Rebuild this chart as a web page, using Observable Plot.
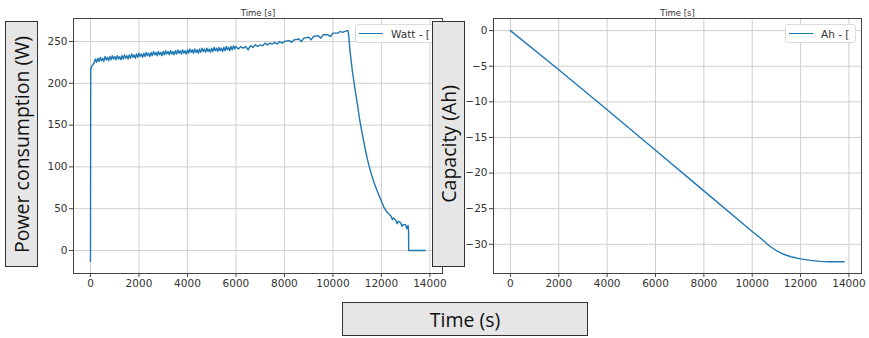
<!DOCTYPE html>
<html>
<head>
<meta charset="utf-8">
<script src="https://cdn.jsdelivr.net/npm/d3@7"></script>
<script src="https://cdn.jsdelivr.net/npm/@observablehq/plot@0.6"></script>
<style>
  html, body { margin: 0; padding: 0; background: #fff; }
  #wrap { position: relative; width: 869px; height: 338px; overflow: hidden; background: #fff; }
  .pane { position: absolute; top: 0; }
  .box { position: absolute; background: #e6e6e6; border: 1.5px solid #333; box-sizing: border-box;
         display: flex; align-items: center; justify-content: center;
         font-family: "Open Sans", sans-serif; font-size: 19.5px; color: #111; }
  .vert { writing-mode: vertical-rl; transform: rotate(180deg); }
  .leg { position: absolute; background: rgba(255,255,255,0.9); border: 1px solid #dcdcdc; border-radius: 3px;
         box-sizing: border-box; display: flex; align-items: center; font-family: "DejaVu Sans", sans-serif;
         font-size: 10.5px; color: #333; white-space: nowrap; overflow: hidden; }
  .sw { display: inline-block; width: 24px; height: 1.5px; background: #1f77b4; margin-left: 3px; margin-right: 8px; }
</style>
</head>
<body>
<div id="wrap">
  <div id="left" class="pane" style="left:0px"></div>
  <div id="right" class="pane" style="left:450px"></div>
  <div class="leg" style="left:355px;top:24px;width:83px;height:19px"><span class="sw"></span><span>Watt - [</span></div>
  <div class="leg" style="left:785px;top:24px;width:71px;height:19px"><span class="sw"></span><span>Ah - [</span></div>
  <div class="box" style="left:5px;top:21px;width:33px;height:246px"><span class="vert">Power consumption (W)</span></div>
  <div class="box" style="left:432px;top:21px;width:33px;height:246px"><span class="vert">Capacity (Ah)</span></div>
  <div class="box" style="left:342px;top:302px;width:246px;height:34px"><span>Time (s)</span></div>
</div>
<script>
// ---- data ----
const powerTime = [
  0, 10, 40, 100, 150,
  200, 250, 300, 350, 400, 450, 500, 550, 600, 650, 700, 750, 800, 850, 900, 950, 1000, 1050, 1100, 1150,
  1200, 1250, 1300, 1350, 1400, 1450, 1500, 1550, 1600, 1650, 1700, 1750, 1800, 1850, 1900, 1950, 2000, 2050, 2100, 2150,
  2200, 2250, 2300, 2350, 2400, 2450, 2500, 2550, 2600, 2650, 2700, 2750, 2800, 2850, 2900, 2950, 3000, 3050, 3100, 3150,
  3200, 3250, 3300, 3350, 3400, 3450, 3500, 3550, 3600, 3650, 3700, 3750, 3800, 3850, 3900, 3950, 4000, 4050, 4100, 4150,
  4200, 4250, 4300, 4350, 4400, 4450, 4500, 4550, 4600, 4650, 4700, 4750, 4800, 4850, 4900, 4950, 5000, 5050, 5100, 5150,
  5200, 5250, 5300, 5350, 5400, 5450, 5500, 5550, 5600, 5650, 5700, 5750, 5800, 5850, 5900, 5950, 6000,
  6100, 6200, 6300, 6400, 6500, 6600, 6700, 6800, 6900, 7000, 7100, 7200, 7300, 7400, 7500, 7600, 7700, 7800, 7900, 8000,
  8200, 8300, 8400, 8600, 8700, 8800, 9000, 9100, 9200, 9400, 9500, 9600, 9800, 9900, 10000, 10200, 10300, 10400, 10500, 10600,
  10620, 10650, 10700, 10800, 10900, 11000, 11100, 11200, 11300, 11400, 11500, 11600, 11700, 11800, 11900, 12000,
  12100, 12200, 12300, 12400, 12450, 12500, 12600, 12650, 12700, 12800, 12850, 12900, 13000, 13050, 13100, 13120, 13125, 13800
];
const powerWatt = [
  -13, 216, 220, 222, 225,
  229, 225, 230, 226, 231, 227, 230, 226, 232, 228, 231, 227, 232, 228, 233, 229, 232, 228, 233, 229,
  232, 228, 233, 229, 234, 230, 233, 229, 234, 230, 235, 231, 234, 230, 235, 231, 236, 232, 235, 231,
  236, 232, 237, 233, 236, 232, 237, 233, 238, 234, 237, 233, 238, 234, 237, 233, 238, 234, 239, 235,
  238, 234, 239, 235, 238, 234, 239, 235, 240, 236, 239, 235, 240, 236, 239, 235, 240, 236, 241, 237,
  240, 236, 241, 237, 240, 236, 241, 237, 242, 238, 241, 237, 242, 238, 241, 237, 242, 238, 243, 239,
  242, 238, 243, 239, 242, 238, 243, 239, 244, 240, 243, 239, 244, 240, 245, 241, 244,
  241, 244, 242, 244, 240, 245, 243, 246, 244, 246, 245, 248, 246, 248, 247, 249, 247, 250, 248, 250,
  251, 249, 252, 253, 250, 254, 255, 252, 256, 257, 254, 258, 258, 256, 260, 260, 262, 261, 262, 263,
  263, 258, 240, 215, 195, 177, 157, 141, 126, 112, 100, 90, 81, 73, 66, 59,
  52, 47, 44, 41, 37, 39, 36, 32, 35, 33, 29, 31, 31, 26, 30, 24, 0, 0
];
const capTime = [0, 2000, 4000, 6000, 8000, 10000, 10400, 10700, 11000, 11300, 11600, 12000, 12400, 12800, 13200, 13800];
const capAh   = [0, -5.5, -11.1, -16.8, -22.5, -28.2, -29.3, -30.2, -30.9, -31.4, -31.75, -32.05, -32.25, -32.4, -32.45, -32.45];
const xTicks = [0, 2000, 4000, 6000, 8000, 10000, 12000, 14000];
const powerTicks = [0, 50, 100, 150, 200, 250];
const capTicks = [0, -5, -10, -15, -20, -25, -30];
const topTitle = "Time [s]";

const powerData = powerTime.map((t, i) => ({t, v: powerWatt[i]}));
const capData = capTime.map((t, i) => ({t, v: capAh[i]}));

const style = {fontFamily: "DejaVu Sans, sans-serif", fontSize: "10.5px", color: "#333", background: "transparent", overflow: "visible"};
const fmt = d3.format("d");

function panel(data, width, marginLeft, yDomain, yTicks) {
  return Plot.plot({
    width, height: 300,
    marginLeft, marginRight: 8, marginTop: 18, marginBottom: 27,
    style,
    x: {domain: [-700, 14520]},
    y: {domain: yDomain},
    marks: [
      Plot.gridX(xTicks, {stroke: "#cfcfcf", strokeOpacity: 1, strokeWidth: 1}),
      Plot.gridY(yTicks, {stroke: "#cfcfcf", strokeOpacity: 1, strokeWidth: 1}),
      Plot.line(data, {x: "t", y: "v", stroke: "#1f77b4", strokeWidth: 1.4}),
      Plot.frame({stroke: "#444", strokeWidth: 1}),
      Plot.axisX(xTicks, {tickFormat: fmt, tickSize: 4, tickPadding: 2, label: null, stroke: "#444"}),
      Plot.axisY(yTicks, {tickFormat: fmt, tickSize: 4, tickPadding: 2, label: null, stroke: "#444"}),
      Plot.text([topTitle], {frameAnchor: "top", dy: -9, fontSize: 8.5, fill: "#333"})
    ]
  });
}

document.getElementById("left").appendChild(panel(powerData, 450, 73, [-27.5, 277.5], powerTicks));
document.getElementById("right").appendChild(panel(capData, 419, 43, [-34.1, 1.7], capTicks));
</script>
</body>
</html>
